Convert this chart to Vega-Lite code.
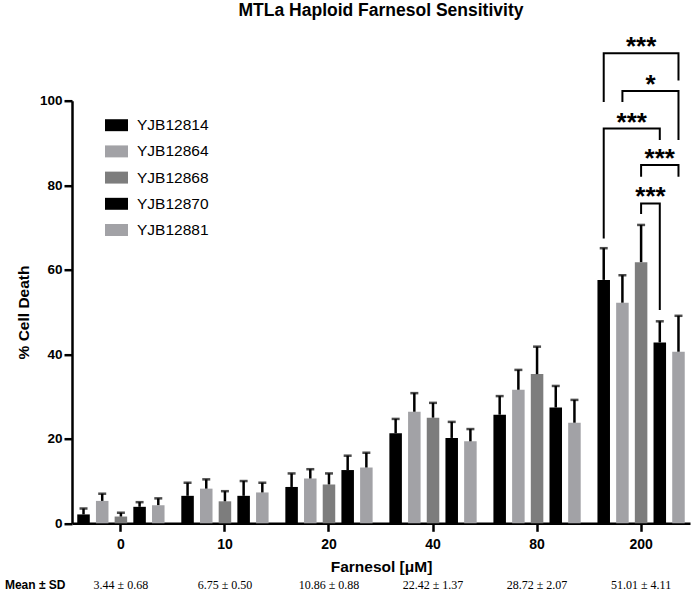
{
  "$schema": "https://vega.github.io/schema/vega-lite/v6.json",
  "description": "MTLa haploid farnesol sensitivity, % cell death per strain.",
  "autosize": "none",
  "width": 618,
  "height": 422.6,
  "padding": {"left": 72, "top": 100.7, "right": 2, "bottom": 68.7},
  "background": "white",
  "title": {
    "text": "MTLa Haploid Farnesol Sensitivity",
    "font": "Liberation Sans",
    "fontSize": 17.5,
    "fontWeight": "bold",
    "color": "black",
    "frame": "group",
    "anchor": "middle",
    "offset": 15
  },
  "datasets": {
    "bars": [
      {"conc": "0", "strain": "YJB12814", "value": 2.1, "upper": 3.5},
      {"conc": "0", "strain": "YJB12864", "value": 5.3, "upper": 7.0},
      {"conc": "0", "strain": "YJB12868", "value": 1.6, "upper": 2.5},
      {"conc": "0", "strain": "YJB12870", "value": 3.9, "upper": 5.0},
      {"conc": "0", "strain": "YJB12881", "value": 4.3, "upper": 5.9},
      {"conc": "10", "strain": "YJB12814", "value": 6.5, "upper": 9.6},
      {"conc": "10", "strain": "YJB12864", "value": 8.2, "upper": 10.4},
      {"conc": "10", "strain": "YJB12868", "value": 5.2, "upper": 7.6},
      {"conc": "10", "strain": "YJB12870", "value": 6.5, "upper": 10.0},
      {"conc": "10", "strain": "YJB12881", "value": 7.3, "upper": 9.6},
      {"conc": "20", "strain": "YJB12814", "value": 8.6, "upper": 11.8},
      {"conc": "20", "strain": "YJB12864", "value": 10.6, "upper": 12.8},
      {"conc": "20", "strain": "YJB12868", "value": 9.2, "upper": 11.8},
      {"conc": "20", "strain": "YJB12870", "value": 12.6, "upper": 16.0},
      {"conc": "20", "strain": "YJB12881", "value": 13.2, "upper": 16.7},
      {"conc": "40", "strain": "YJB12814", "value": 21.3, "upper": 24.7},
      {"conc": "40", "strain": "YJB12864", "value": 26.4, "upper": 30.8},
      {"conc": "40", "strain": "YJB12868", "value": 25.0, "upper": 28.5},
      {"conc": "40", "strain": "YJB12870", "value": 20.2, "upper": 24.0},
      {"conc": "40", "strain": "YJB12881", "value": 19.4, "upper": 22.3},
      {"conc": "80", "strain": "YJB12814", "value": 25.7, "upper": 30.1},
      {"conc": "80", "strain": "YJB12864", "value": 31.6, "upper": 36.3},
      {"conc": "80", "strain": "YJB12868", "value": 35.3, "upper": 41.8},
      {"conc": "80", "strain": "YJB12870", "value": 27.4, "upper": 32.5},
      {"conc": "80", "strain": "YJB12881", "value": 23.8, "upper": 29.2},
      {"conc": "200", "strain": "YJB12814", "value": 57.6, "upper": 65.1},
      {"conc": "200", "strain": "YJB12864", "value": 52.2, "upper": 58.7},
      {"conc": "200", "strain": "YJB12868", "value": 61.8, "upper": 70.6},
      {"conc": "200", "strain": "YJB12870", "value": 42.8, "upper": 47.8},
      {"conc": "200", "strain": "YJB12881", "value": 40.6, "upper": 49.1}
    ],
    "brackets": [
      {"b": "b1", "strain": "YJB12814", "y": 99.7, "k": 1},
      {"b": "b1", "strain": "YJB12814", "y": 111.2, "k": 2},
      {"b": "b1", "strain": "YJB12881", "y": 111.2, "k": 3},
      {"b": "b1", "strain": "YJB12881", "y": 104.8, "k": 4},
      {"b": "b2", "strain": "YJB12864", "y": 99.7, "k": 1},
      {"b": "b2", "strain": "YJB12864", "y": 102.3, "k": 2},
      {"b": "b2", "strain": "YJB12881", "y": 102.3, "k": 3},
      {"b": "b2", "strain": "YJB12881", "y": 90.7, "k": 4},
      {"b": "b3", "strain": "YJB12814", "y": 67.4, "k": 1},
      {"b": "b3", "strain": "YJB12814", "y": 93.4, "k": 2},
      {"b": "b3", "strain": "YJB12870", "y": 93.4, "k": 3},
      {"b": "b3", "strain": "YJB12870", "y": 90.7, "k": 4},
      {"b": "b4", "strain": "YJB12868", "y": 82.0, "k": 1},
      {"b": "b4", "strain": "YJB12868", "y": 84.8, "k": 2},
      {"b": "b4", "strain": "YJB12881", "y": 84.8, "k": 3},
      {"b": "b4", "strain": "YJB12881", "y": 82.0, "k": 4},
      {"b": "b5", "strain": "YJB12868", "y": 73.2, "k": 1},
      {"b": "b5", "strain": "YJB12868", "y": 75.7, "k": 2},
      {"b": "b5", "strain": "YJB12870", "y": 75.7, "k": 3},
      {"b": "b5", "strain": "YJB12870", "y": 50.5, "k": 4}
    ],
    "stars_on_bar": [
      {"label": "***", "strain": "YJB12868", "y": 111.2},
      {"label": "***", "strain": "YJB12870", "y": 84.8}
    ],
    "stars_between": [
      {"label": "*", "strain": "YJB12868", "y": 102.3},
      {"label": "***", "strain": "YJB12864", "y": 93.4},
      {"label": "***", "strain": "YJB12868", "y": 75.7}
    ],
    "means": [
      {"conc": "0", "text": "3.44 ± 0.68"},
      {"conc": "10", "text": "6.75 ± 0.50"},
      {"conc": "20", "text": "10.86 ± 0.88"},
      {"conc": "40", "text": "22.42 ± 1.37"},
      {"conc": "80", "text": "28.72 ± 2.07"},
      {"conc": "200", "text": "51.01 ± 4.11"}
    ]
  },
  "layer": [
    {
      "data": {"name": "bars"},
      "mark": {"type": "bar"},
      "encoding": {
        "x": {
          "field": "conc",
          "type": "nominal",
          "title": "Farnesol [μM]",
          "scale": {"domain": ["0", "10", "20", "40", "80", "200"], "paddingInner": 0.1, "paddingOuter": 0.02},
          "axis": {"labelAngle": 0}
        },
        "xOffset": {
          "field": "strain",
          "type": "nominal",
          "scale": {"paddingInner": 0.33, "paddingOuter": 0.17}
        },
        "y": {
          "field": "value",
          "type": "quantitative",
          "title": "% Cell Death",
          "scale": {"domain": [0, 100], "nice": false},
          "axis": {"values": [0, 20, 40, 60, 80, 100]}
        },
        "color": {
          "field": "strain",
          "type": "nominal",
          "scale": {"range": ["#000000", "#a2a2a6", "#7d7d7d", "#000000", "#a2a2a6"]},
          "legend": {
            "title": null,
            "orient": "none",
            "legendX": 33,
            "legendY": 13,
            "direction": "vertical"
          }
        }
      }
    },
    {
      "data": {"name": "bars"},
      "mark": {"type": "rule", "color": "black", "strokeWidth": 2.5},
      "encoding": {
        "x": {"field": "conc", "type": "nominal", "scale": {"domain": ["0", "10", "20", "40", "80", "200"]}},
        "xOffset": {"field": "strain", "type": "nominal"},
        "y": {"field": "value", "type": "quantitative"},
        "y2": {"field": "upper"}
      }
    },
    {
      "data": {"name": "bars"},
      "mark": {"type": "tick", "color": "black", "size": 8, "thickness": 2.5},
      "encoding": {
        "x": {"field": "conc", "type": "nominal", "scale": {"domain": ["0", "10", "20", "40", "80", "200"]}},
        "xOffset": {"field": "strain", "type": "nominal"},
        "y": {"field": "upper", "type": "quantitative"}
      }
    },
    {
      "data": {"name": "brackets"},
      "mark": {"type": "line", "color": "black", "strokeWidth": 2},
      "encoding": {
        "x": {"datum": "200", "type": "nominal"},
        "xOffset": {"field": "strain", "type": "nominal"},
        "y": {"field": "y", "type": "quantitative"},
        "detail": {"field": "b"},
        "order": {"field": "k"}
      }
    },
    {
      "data": {"name": "stars_on_bar"},
      "mark": {"type": "text", "font": "Liberation Sans", "fontWeight": "bold", "fontSize": 26, "baseline": "alphabetic", "align": "center", "dy": 2},
      "encoding": {
        "x": {"datum": "200", "type": "nominal"},
        "xOffset": {"field": "strain", "type": "nominal"},
        "y": {"field": "y", "type": "quantitative"},
        "text": {"field": "label"}
      }
    },
    {
      "data": {"name": "stars_between"},
      "mark": {"type": "text", "font": "Liberation Sans", "fontWeight": "bold", "fontSize": 26, "baseline": "alphabetic", "align": "center", "dx": 9.34, "dy": 2},
      "encoding": {
        "x": {"datum": "200", "type": "nominal"},
        "xOffset": {"field": "strain", "type": "nominal"},
        "y": {"field": "y", "type": "quantitative"},
        "text": {"field": "label"}
      }
    },
    {
      "data": {"name": "means"},
      "mark": {"type": "text", "font": "Liberation Serif", "fontSize": 12, "baseline": "middle", "align": "center"},
      "encoding": {
        "x": {"field": "conc", "type": "nominal", "scale": {"domain": ["0", "10", "20", "40", "80", "200"]}},
        "y": {"datum": -14.6, "type": "quantitative"},
        "text": {"field": "text"}
      }
    },
    {
      "data": {"values": [{"text": "Mean ± SD"}]},
      "mark": {"type": "text", "font": "Liberation Sans", "fontWeight": "bold", "fontSize": 12, "baseline": "middle", "align": "left", "dx": -116},
      "encoding": {
        "x": {"datum": "0", "type": "nominal"},
        "y": {"datum": -14.6, "type": "quantitative"},
        "text": {"field": "text"}
      }
    }
  ],
  "config": {
    "view": {"stroke": null},
    "font": "Liberation Sans",
    "axis": {
      "grid": false,
      "domainColor": "black",
      "domainWidth": 2.5,
      "tickColor": "black",
      "tickWidth": 2.5,
      "tickSize": 8,
      "labelFont": "Liberation Sans",
      "labelFontWeight": "bold",
      "labelColor": "black",
      "titleFont": "Liberation Sans",
      "titleFontWeight": "bold",
      "titleFontSize": 15.5,
      "titleColor": "black"
    },
    "axisX": {"labelFontSize": 14, "labelPadding": 6, "titlePadding": 8},
    "axisY": {"labelFontSize": 13.5, "labelPadding": 2, "titlePadding": 8},
    "legend": {
      "padding": 0,
      "labelFont": "Liberation Sans",
      "labelFontSize": 15.5,
      "labelColor": "black",
      "labelOffset": 9,
      "symbolType": "M-1,-0.52H1V0.52H-1Z",
      "symbolSize": 529,
      "symbolStrokeWidth": 0,
      "symbolOpacity": 1,
      "rowPadding": 6.2
    }
  }
}
